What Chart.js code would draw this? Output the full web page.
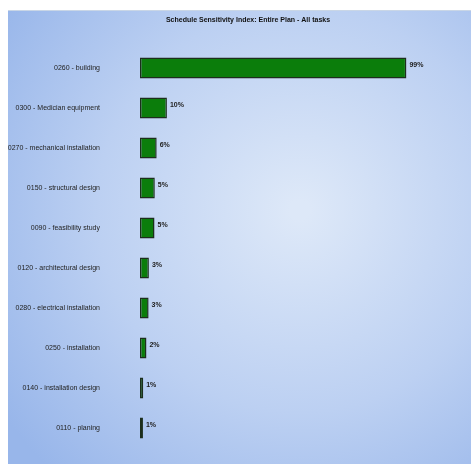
<!DOCTYPE html>
<html>
<head>
<meta charset="utf-8">
<script src="https://cdn.jsdelivr.net/npm/chart.js"></script>
<style>
  html, body { margin: 0; padding: 0; background: #fff; }
  #wrap { width: 471px; height: 466px; }
</style>
</head>
<body>
<div id="wrap"><canvas id="myChart1" width="471" height="466"></canvas></div>
<script>
// tasks and their sensitivity index (%)
var tasks = ['0260 - building', '0300 - Medician equipment', '0270 - mechanical installation',
             '0150 - structural design', '0090 - feasibility study', '0120 - architectural design',
             '0280 - electrical installation', '0250 - installation', '0140 - installation design',
             '0110 - planing'];
var sensitivity = [99, 10, 6.2, 5.5, 5.4, 3.3, 3.2, 2.4, 1.2, 1.1];
var shownLabels = ['99%', '10%', '6%', '5%', '5%', '3%', '3%', '2%', '1%', '1%'];
var titleText = 'Schedule Sensitivity Index: Entire Plan - All tasks';

// panel background with soft blue radial gradient + title
const panelBg = {
  id: 'panelBg',
  beforeDraw(chart) {
    const ctx = chart.ctx;
    ctx.save();
    ctx.fillStyle = '#ffffff';
    ctx.fillRect(0, 0, chart.width, chart.height);
    var g = ctx.createRadialGradient(300, 210, 10, 300, 210, 360);
    g.addColorStop(0, '#dde8f8');
    g.addColorStop(0.55, '#bcd0f2');
    g.addColorStop(1, '#98b6ea');
    ctx.fillStyle = g;
    ctx.fillRect(8, 10, chart.width - 8, chart.height - 12);
    ctx.fillStyle = '#c9d6e6';
    ctx.fillRect(8, 10, chart.width - 8, 1);
    ctx.font = 'bold 7px "Liberation Sans Narrow", "Liberation Sans", Arial, sans-serif';
    ctx.fillStyle = '#111';
    ctx.textAlign = 'center';
    ctx.textBaseline = 'middle';
    ctx.fillText(titleText, 248, 20);
    ctx.restore();
  }
};

// value labels to the right of every bar
const barValues = {
  id: 'barValues',
  afterDatasetsDraw(chart) {
    const ctx = chart.ctx;
    const meta = chart.getDatasetMeta(0);
    ctx.save();
    ctx.font = 'bold 7px "Liberation Sans Narrow", "Liberation Sans", Arial, sans-serif';
    ctx.fillStyle = '#222';
    ctx.textAlign = 'left';
    ctx.textBaseline = 'middle';
    meta.data.forEach(function (bar, i) {
      ctx.fillText(shownLabels[i], bar.x + 3, bar.y - 3);
    });
    ctx.restore();
  }
};

var data1 = {
  labels: tasks,
  datasets: [{
    data: sensitivity,
    backgroundColor: '#0b7d0b',
    borderColor: '#1c2e1c',
    borderWidth: 1.5,
    borderSkipped: false,
    barPercentage: 0.52,
    categoryPercentage: 1
  }]
};

const config1 = {
  type: 'bar',
  data: data1,
  options: {
    indexAxis: 'y',
    responsive: false,
    animation: false,
    layout: { padding: { top: 48, bottom: 18, left: 8, right: 35 } },
    plugins: {
      legend: { display: false },
      tooltip: { enabled: false },
      title: { display: false }
    },
    scales: {
      x: {
        display: false,
        min: 0,
        max: 110
      },
      y: {
        // tick length (not tick padding) pushes the labels left, keeps top/bottom free
        grid: { display: false, tickLength: 40 },
        border: { display: false },
        ticks: {
          color: '#222',
          padding: 0,
          font: { family: '"Liberation Sans", Arial, sans-serif', size: 7 }
        },
        afterFit: function (scale) { scale.width = 132; }
      }
    }
  },
  plugins: [panelBg, barValues]
};

var ctx1 = document.getElementById('myChart1').getContext('2d');
const chart1 = new Chart(ctx1, config1);
</script>
</body>
</html>
